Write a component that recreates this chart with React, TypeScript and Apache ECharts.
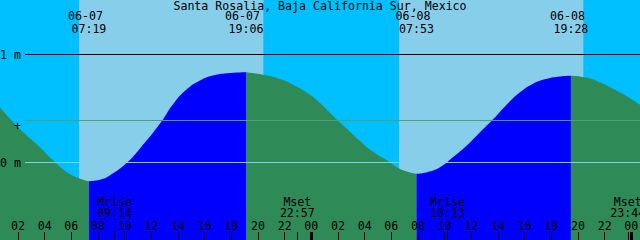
import React, { useEffect, useRef } from "react";
import * as echarts from "echarts";

const titleText = "Santa Rosalia, Baja California Sur, Mexico";

// hours since 06-07 00:00
const startHour = 0.65;
const endHour = 48.65;

const tideHours = [
  0.65, 2.15, 3.65, 4.63, 5.68, 6.65, 7.317, 8.15, 9.13, 10.18, 11.15, 12.65,
  13.63, 14.68, 15.65, 16.63, 17.68, 19.1, 20.68, 21.65, 22.63, 23.68, 24.65,
  25.63, 26.68, 27.65, 28.63, 29.68, 30.65, 31.883, 32.68, 33.65, 34.63, 35.68,
  36.65, 37.63, 38.68, 39.65, 40.63, 41.68, 42.65, 43.467, 44.68, 45.65, 46.63,
  47.68, 48.65,
];
const tideHeights = [
  0.51, 0.31, 0.14, 0.02, -0.09, -0.15, -0.173, -0.16, -0.1, 0.0, 0.13, 0.36,
  0.54, 0.68, 0.76, 0.806, 0.827, 0.836, 0.806, 0.772, 0.72, 0.645, 0.55, 0.43,
  0.31, 0.2, 0.1, 0.02, -0.06, -0.105, -0.09, -0.044, 0.05, 0.16, 0.28, 0.4,
  0.54, 0.65, 0.73, 0.775, 0.796, 0.803, 0.784, 0.742, 0.682, 0.612, 0.535,
];

const extremeHours = [7.317, 19.1, 31.883, 43.467];
const extremeDates = ["06-07", "06-07", "06-08", "06-08"];
const extremeTimes = ["07:19", "19:06", "07:53", "19:28"];

const sunriseHours = [6.58, 30.58];
const sunsetHours = [20.4, 44.4];

const moonHours = [9.233, 22.95, 34.217, 47.733];
const moonEvents = ["Mrise", "Mset", "Mrise", "Mset"];
const moonTimes = ["09:14", "22:57", "10:13", "23:44"];

const hourTicks = [
  2, 4, 6, 8, 10, 12, 14, 16, 18, 20, 22, 24, 26, 28, 30, 32, 34, 36, 38, 40,
  42, 44, 46, 48,
];
const midnightTicks = [24, 48];

const levelValues = [1, 0.386, 0];
const levelLabels = ["1 m", "+", "0 m"];

const NIGHT = "#00BFFF";
const DAY = "#87CEEB";
const FALLING = "#2E8B57";
const RISING = "#0000FF";
const levelColors = ["#000000", "#4E9E7E", "#87CEEB"];

const FONT = '"DejaVu Sans Mono", monospace';
const FS = 11.6;

const yMax = 1.5 + 0.5 / 108;
const yMin = yMax - 240 / 108;

function findIdx(arr: number[], v: number) {
  for (let i = 0; i < arr.length; i++) if (Math.abs(arr[i] - v) < 1e-6) return i;
  return -1;
}
function pad(n: number) {
  const r = Math.round(n) % 24;
  return (r < 10 ? "0" : "") + r;
}

function buildSegments(rising: boolean) {
  const out: any[] = [];
  const n = tideHours.length;
  for (let i = 0; i < n; i++) {
    const prevRising = i > 0 ? tideHeights[i] > tideHeights[i - 1] : null;
    const nextRising = i < n - 1 ? tideHeights[i + 1] > tideHeights[i] : null;
    const inc = prevRising === rising || nextRising === rising;
    out.push(inc ? [tideHours[i], tideHeights[i]] : [tideHours[i], "-"]);
  }
  return out;
}

export default function App() {
  const ref = useRef<HTMLDivElement>(null);
  useEffect(() => {
    if (!ref.current) return;
    const chart = echarts.init(ref.current, null, { renderer: "svg" });
    const baseAxis = {
      type: "value" as const,
      min: startHour,
      max: endHour,
      gridIndex: 0,
      z: 10,
      axisLine: { show: false, onZero: false },
      splitLine: { show: false },
    };
    const areaSeries = (rising: boolean) => ({
      type: "line",
      xAxisIndex: 0,
      yAxisIndex: 0,
      data: buildSegments(rising),
      showSymbol: false,
      smooth: 0.5,
      connectNulls: false,
      lineStyle: { width: 0 },
      areaStyle: { color: rising ? RISING : FALLING, opacity: 1, origin: "start" },
      silent: true,
      z: 2,
    });
    chart.setOption({
      animation: false,
      backgroundColor: NIGHT,
      title: {
        text: titleText,
        left: "center",
        top: 0,
        padding: 0,
        z: 10,
        textStyle: {
          fontFamily: FONT,
          fontSize: FS,
          fontWeight: "normal",
          color: "#000",
          lineHeight: 12,
        },
      },
      grid: [
        { left: 0, right: 0, top: 0, bottom: 0, containLabel: false, outerBoundsMode: "none" },
        { left: 25, right: 0, top: 0, bottom: 0, containLabel: false, outerBoundsMode: "none" },
      ],
      xAxis: [
        {
          ...baseAxis,
          position: "bottom",
          axisTick: {
            show: true,
            inside: true,
            length: 8,
            customValues: hourTicks,
            lineStyle: { color: "#000", width: 1 },
          },
          axisLabel: {
            show: true,
            inside: true,
            margin: 8,
            customValues: hourTicks,
            formatter: (v: number) => pad(v),
            color: "#000",
            fontFamily: FONT,
            fontSize: FS,
            showMinLabel: true,
            showMaxLabel: true,
          },
        },
        {
          ...baseAxis,
          position: "bottom",
          axisTick: {
            show: true,
            inside: true,
            length: 8,
            customValues: midnightTicks,
            lineStyle: { color: "#000", width: 3 },
          },
          axisLabel: { show: false },
        },
        {
          ...baseAxis,
          position: "bottom",
          axisTick: {
            show: true,
            inside: true,
            length: 8,
            customValues: moonHours,
            lineStyle: { color: "#000", width: 1 },
          },
          axisLabel: {
            show: true,
            inside: true,
            margin: 21,
            customValues: moonHours,
            formatter: (v: number) => {
              const i = findIdx(moonHours, v);
              return i < 0 ? "" : moonEvents[i] + "\n" + moonTimes[i];
            },
            color: "#000",
            fontFamily: FONT,
            fontSize: FS,
            lineHeight: 11.5,
            showMinLabel: true,
            showMaxLabel: true,
          },
        },
        {
          ...baseAxis,
          position: "top",
          axisTick: { show: false },
          axisLabel: {
            show: true,
            inside: true,
            margin: 10,
            customValues: extremeHours,
            formatter: (v: number) => {
              const i = findIdx(extremeHours, v);
              return i < 0 ? "" : extremeDates[i] + " \n" + extremeTimes[i];
            },
            color: "#000",
            fontFamily: FONT,
            fontSize: FS,
            lineHeight: 12.5,
          },
        },
        {
          type: "value",
          gridIndex: 1,
          min: 0,
          max: 1,
          show: false,
        },
      ],
      yAxis: [
        { type: "value", gridIndex: 0, min: yMin, max: yMax, show: false },
        {
          type: "value",
          gridIndex: 1,
          min: yMin,
          max: yMax,
          z: 10,
          axisLine: { show: false, onZero: false },
          axisTick: { show: false },
          splitLine: { show: false },
          axisLabel: {
            show: true,
            margin: 4,
            customValues: levelValues,
            formatter: (v: number) => {
              const i = findIdx(levelValues, v);
              if (i < 0) return "";
              return levelLabels[i] === "+" ? "{p|+}" : levelLabels[i];
            },
            rich: { p: { padding: [10, 0, 0, 0], fontFamily: FONT, fontSize: FS, color: "#000" } },
            color: "#000",
            fontFamily: FONT,
            fontSize: FS,
          },
        },
      ],
      series: [
        {
          type: "line",
          xAxisIndex: 0,
          yAxisIndex: 0,
          data: [],
          z: 1,
          silent: true,
          markArea: {
            silent: true,
            itemStyle: { color: DAY, opacity: 1 },
            data: sunriseHours.map((s, i) => [{ xAxis: s }, { xAxis: sunsetHours[i] }]),
          },
        },
        areaSeries(false),
        areaSeries(true),
        {
          type: "line",
          xAxisIndex: 4,
          yAxisIndex: 1,
          data: [],
          z: 5,
          silent: true,
          markLine: {
            silent: true,
            symbol: ["none", "none"],
            label: { show: false },
            data: levelValues.map((v, i) => ({
              yAxis: v,
              lineStyle: { color: levelColors[i], width: 1, type: "solid" },
            })),
          },
        },
      ],
    });
    return () => chart.dispose();
  }, []);
  return (
    <div
      ref={ref}
      style={{ position: "fixed", left: 0, top: 0, width: 640, height: 240 }}
    />
  );
}
